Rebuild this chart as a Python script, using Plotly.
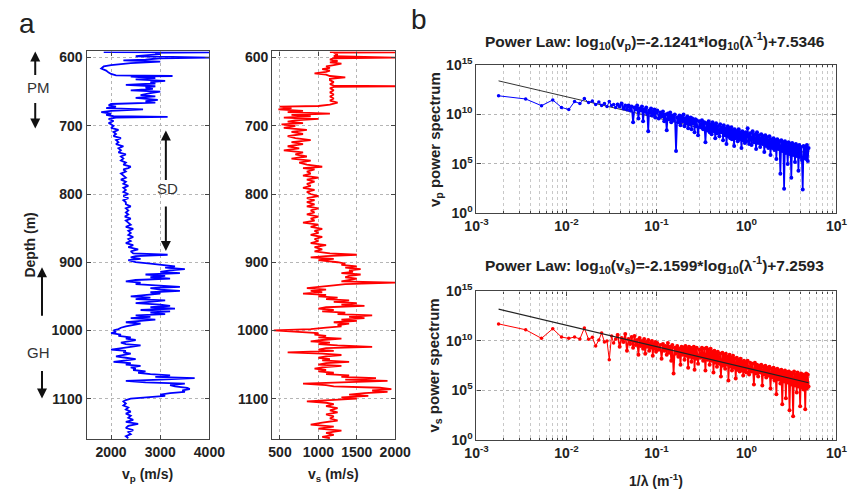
import numpy as np
import plotly.graph_objects as go

# ---------------- data ----------------
depth_vp = [592, 592.5, 593, 595, 598, 600, 601, 603, 604, 606, 608, 611, 613, 616, 619, 622, 624, 626, 627, 628,
            630, 632, 634, 636, 638, 640, 642, 644, 646, 648, 650, 652, 655, 657, 659, 662, 664, 666, 668, 670,
            672, 674, 676, 678, 680, 682, 684, 686, 687, 688, 690, 693, 696, 700, 703, 706, 709, 712, 715, 718,
            721, 724, 727, 730, 733, 736, 739, 742, 745, 748, 751, 754, 757, 760, 762, 764, 767, 770, 773, 776,
            779, 782, 785, 788, 791, 794, 797, 800, 803, 806, 809, 812, 815, 818, 821, 824, 827, 830, 833, 836,
            839, 842, 845, 848, 851, 854, 857, 860, 863, 866, 869, 872, 875, 878, 881, 884, 887, 889, 891, 893,
            895, 897, 900, 902, 904, 906, 908, 910, 912, 914, 916, 918, 920, 922, 924, 926, 928, 930, 932, 934,
            936, 938, 940, 942, 944, 946, 948, 950, 952, 954, 956, 958, 960, 962, 964, 966, 968, 970, 972, 974,
            976, 978, 980, 982, 984, 986, 988, 990, 992, 994, 996, 998, 1000, 1002, 1004, 1006, 1008, 1010, 1012, 1014,
            1016, 1018, 1020, 1022, 1024, 1026, 1028, 1030, 1032, 1034, 1036, 1038, 1040, 1042, 1044, 1046, 1048, 1050, 1052, 1054,
            1056, 1058, 1060, 1062, 1064, 1066, 1068, 1070, 1072, 1074, 1076, 1078, 1080, 1082, 1084, 1086, 1088, 1090, 1092, 1094,
            1096, 1098, 1100, 1102, 1104, 1107, 1110, 1113, 1116, 1119, 1122, 1125, 1128, 1131, 1134, 1137, 1140, 1143, 1146, 1149,
            1152, 1155, 1158]
vp = [1850, 4000, 2900, 3000, 2500, 4000, 3000, 2700, 2250, 3000, 2400, 2000, 1850, 1800, 1900, 1950, 2000, 2100, 3250, 2400,
      2900, 2500, 3100, 2800, 2900, 2300, 2900, 2700, 2850, 2400, 3000, 2800, 2600, 2900, 2500, 2950, 2700, 2900, 2000, 1950,
      2100, 1900, 2650, 2000, 1800, 2000, 1900, 2050, 3150, 2100, 1950, 2050, 1950, 2050, 2000, 2150, 2050, 2100, 2050, 2200,
      2100, 2150, 2100, 2250, 2150, 2200, 2150, 2300, 2200, 2250, 2200, 2300, 2250, 2400, 2350, 2250, 2300, 2200, 2250, 2300,
      2200, 2300, 2250, 2350, 2250, 2300, 2250, 2350, 2250, 2350, 2250, 2300, 2300, 2400, 2300, 2350, 2300, 2350, 2280, 2400,
      2300, 2350, 2400, 2300, 2450, 2350, 2400, 2350, 2450, 2350, 2400, 2300, 2450, 2350, 2550, 2400, 2450, 3150, 2500, 2400,
      2600, 2350, 2500, 2800, 3000, 3300, 3100, 3500, 3200, 3000, 3400, 2700, 3100, 2800, 3200, 2500, 2300, 2600, 2500, 2900,
      3400, 2800, 3000, 3400, 2800, 3000, 2600, 2400, 2800, 2500, 3100, 2700, 2500, 3000, 3200, 2800, 3300, 2600, 3200, 2800,
      3100, 2500, 2800, 2400, 2900, 2600, 2300, 2600, 2400, 2300, 2200, 2150, 2050, 2100, 2000, 2200, 2150, 2400, 2300, 2500,
      2350, 2200, 2300, 2600, 2400, 2200, 2000, 2300, 2250, 2400, 2200, 2100, 2300, 2500, 2300, 2050, 2400, 2300, 2600, 2400,
      2500, 2450, 2700, 2550, 2800, 3200, 2900, 3700, 3000, 2300, 2700, 3500, 3200, 3300, 3550, 3600, 3450, 3500, 3200, 3000,
      3100, 2700, 2400, 2300, 2250, 2300, 2250, 2350, 2300, 2400, 2300, 2400, 2350, 2450, 2300, 2550, 2350, 2300, 2450, 2350,
      2400, 2300, 2350]

depth_vs = [592, 592.5, 593, 596, 598, 600, 601, 603, 605, 607, 609, 611, 613, 615, 617, 619, 621, 623, 625, 627,
            629, 631, 633, 636, 639, 641, 642, 643, 645, 648, 651, 654, 657, 660, 663, 666, 669, 671, 672, 674,
            676, 678, 680, 682, 684, 686, 688, 690, 692, 694, 696, 698, 700, 703, 706, 709, 712, 715, 718, 721,
            724, 727, 730, 733, 736, 739, 742, 745, 748, 751, 754, 757, 760, 762, 764, 767, 770, 773, 776, 779,
            782, 785, 788, 791, 794, 797, 800, 803, 806, 809, 812, 815, 818, 821, 824, 827, 830, 833, 836, 839,
            842, 845, 848, 851, 854, 857, 860, 863, 866, 869, 872, 875, 878, 881, 884, 887, 889, 891, 893, 895,
            897, 900, 902, 904, 906, 908, 910, 912, 914, 916, 918, 920, 922, 924, 926, 928, 930, 932, 934, 936,
            938, 940, 942, 944, 946, 948, 950, 952, 954, 956, 958, 960, 962, 964, 966, 968, 970, 972, 974, 976,
            978, 980, 982, 984, 986, 988, 990, 992, 994, 996, 998, 1000, 1002, 1004, 1006, 1008, 1010, 1012, 1014, 1016,
            1018, 1020, 1022, 1024, 1026, 1028, 1030, 1032, 1034, 1036, 1038, 1040, 1042, 1044, 1046, 1048, 1050, 1052, 1054, 1056,
            1058, 1060, 1062, 1064, 1066, 1068, 1070, 1072, 1074, 1076, 1078, 1080, 1082, 1084, 1086, 1088, 1090, 1092, 1094, 1096,
            1098, 1100, 1102, 1104, 1106, 1108, 1111, 1114, 1117, 1120, 1123, 1126, 1129, 1132, 1135, 1138, 1141, 1144, 1147, 1150,
            1153, 1156, 1158]
vs = [1150, 2000, 1200, 1250, 1200, 2000, 1200, 1150, 1250, 1150, 1300, 1200, 1100, 1150, 1050, 1150, 1100, 950, 1100, 1150,
      1350, 1150, 1150, 1200, 1150, 1200, 2000, 1200, 1150, 1200, 1150, 1200, 1150, 1200, 1150, 1250, 1150, 1000, 500, 650,
      480, 800, 600, 1150, 650, 900, 550, 1000, 700, 600, 800, 520, 700, 550, 850, 650, 800, 600, 700, 900,
      650, 800, 600, 750, 550, 800, 700, 850, 650, 900, 750, 850, 1050, 800, 950, 850, 900, 800, 1000, 850,
      950, 850, 900, 800, 950, 850, 900, 1000, 850, 950, 850, 950, 850, 1000, 900, 950, 850, 1000, 900, 950,
      800, 1000, 900, 1050, 950, 1000, 900, 1050, 950, 1000, 900, 1100, 950, 1050, 950, 1150, 1500, 1100, 900, 1200,
      1000, 1250, 1350, 1300, 1500, 1350, 1550, 1400, 1450, 1300, 1550, 1400, 1350, 1500, 1400, 1300, 2000, 1350, 1200, 1000,
      850, 1100, 900, 1050, 800, 1100, 1000, 1250, 1100, 1400, 1200, 1500, 1300, 1600, 1100, 1000, 1200, 1050, 1350, 1250,
      1700, 1400, 1600, 1300, 1500, 1200, 1400, 1250, 1300, 1100, 900, 420, 800, 1000, 950, 1100, 1000, 1300, 1050, 900,
      1150, 1000, 1250, 1700, 1100, 1000, 1200, 600, 1050, 1300, 1100, 1000, 1150, 1050, 1400, 1100, 1000, 1300, 1050, 950,
      1100, 1000, 1200, 1100, 1400, 1300, 1750, 1350, 1900, 1400, 800, 1100, 1200, 1800, 1950, 1700, 1900, 1600, 1400, 1650,
      1300, 1500, 1100, 850, 1100, 1200, 1100, 1250, 1150, 1250, 1100, 1200, 1150, 1250, 1050, 900, 1200, 1000, 1300, 1100,
      1200, 1050, 1150]

freq_vp = [0.00176, 0.00352, 0.00528, 0.00704, 0.0088, 0.0106, 0.0123, 0.0141, 0.0158, 0.0176,
           0.0194, 0.0211, 0.0229, 0.0246, 0.0264, 0.0282, 0.0299, 0.0317, 0.0334, 0.0352,
           0.037, 0.039, 0.041, 0.043, 0.045, 0.047, 0.049, 0.051, 0.053, 0.055, 0.057, 0.059, 0.061, 0.063, 0.065,
           0.067, 0.069, 0.071, 0.073, 0.075, 0.077, 0.079, 0.081, 0.083, 0.085, 0.087, 0.089, 0.091, 0.093, 0.095,
           0.097, 0.099, 0.102, 0.106, 0.110, 0.114, 0.118, 0.122, 0.126, 0.130, 0.134, 0.138, 0.142, 0.146, 0.150,
           0.155, 0.160, 0.165, 0.170, 0.175, 0.180, 0.185, 0.190, 0.195, 0.200, 0.205, 0.210, 0.215, 0.220, 0.225,
           0.230, 0.235, 0.240, 0.245, 0.250, 0.255, 0.260, 0.265, 0.270, 0.275, 0.280, 0.290, 0.300,
           0.31, 0.32, 0.33, 0.34, 0.35, 0.36, 0.37, 0.38, 0.39, 0.40, 0.41, 0.42, 0.43, 0.44, 0.45, 0.46, 0.47, 0.48,
           0.50, 0.51, 0.52, 0.54, 0.55, 0.56, 0.58, 0.59, 0.60, 0.62, 0.63, 0.65, 0.66, 0.68, 0.69, 0.71, 0.73, 0.74,
           0.76, 0.78, 0.80, 0.82, 0.84, 0.86, 0.88, 0.90, 0.92, 0.94, 0.96, 0.98, 1.00,
           1.03, 1.07, 1.10, 1.14, 1.17, 1.21, 1.24, 1.28, 1.31, 1.35, 1.38, 1.42, 1.46, 1.50, 1.54, 1.58, 1.62, 1.66,
           1.70, 1.75, 1.80, 1.85, 1.90, 1.95, 2.00, 2.05, 2.10, 2.15, 2.20, 2.26, 2.32, 2.38, 2.44, 2.50, 2.56, 2.62,
           2.68, 2.74, 2.80, 2.87, 2.94, 3.01, 3.08, 3.15, 3.22, 3.30, 3.38, 3.46, 3.54, 3.62, 3.70, 3.78, 3.86, 3.95,
           4.04, 4.13, 4.22, 4.31, 4.40, 4.50, 4.60, 4.70, 4.80, 4.90]
logpow_vp = [11.88, 11.56, 10.88, 11.46, 10.71, 10.49, 11.3, 11.1, 11.62, 11.2,
             11.35, 11.0, 11.25, 10.9, 11.1, 10.8, 11.3, 10.9, 11.0, 10.7,
             11.0, 10.8, 11.1, 10.6, 10.9, 10.5, 10.9, 10.4, 10.8, 9.2, 10.7, 10.5, 10.9, 9.6, 10.6,
             10.4, 10.8, 9.3, 10.5, 10.3, 10.7, 10.1, 8.3, 10.4, 10.2, 10.6, 9.9, 10.3, 10.0, 10.5,
             9.7, 10.2, 10.4, 9.6, 10.2, 9.8, 10.3, 9.3, 10.0, 8.4, 10.1, 9.5, 10.2, 9.2, 9.9,
             9.4, 10.0, 6.3, 9.7, 9.2, 9.9, 8.9, 9.8, 9.3, 10.0, 8.8, 9.6, 9.1, 9.8, 8.6,
             9.5, 9.0, 9.7, 8.5, 9.6, 9.1, 9.4, 8.2, 9.5, 8.8, 9.4, 7.9, 9.3,
             8.7, 9.4, 8.5, 9.2, 7.2, 9.1, 8.4, 9.3, 8.2, 9.0, 8.0, 9.2, 8.3, 8.9, 7.6, 9.1, 8.1, 8.8,
             7.8, 9.0, 8.2, 8.7, 7.4, 8.9, 7.9, 8.6, 7.0, 8.8, 7.8, 8.6, 7.6, 8.7, 7.5, 8.4, 6.8, 8.5,
             7.6, 8.3, 7.3, 8.5, 7.5, 8.2, 6.6, 8.3, 7.4, 8.1, 7.1, 8.2, 7.3,
             8.6, 7.0, 8.1, 6.9, 8.3, 7.2, 8.0, 6.5, 8.2, 7.1, 7.9, 6.7, 8.0, 7.0, 7.8, 6.2, 7.9, 6.8,
             7.7, 6.6, 7.8, 5.9, 7.5, 6.6, 7.6, 6.4, 7.4, 5.5, 7.5, 6.5, 7.3, 4.0, 7.4, 6.3, 7.2, 2.5,
             7.3, 6.1, 7.1, 5.0, 7.2, 6.0, 7.0, 3.6, 7.1, 5.9, 6.9, 5.2, 7.0, 5.8, 6.8, 4.3, 6.9, 5.7,
             6.7, 5.4, 2.4, 6.8, 5.6, 6.7, 5.5, 6.9, 5.3, 6.6]

freq_vs = list(freq_vp)
logpow_vs = [11.72, 11.13, 10.26, 11.23, 10.39, 10.26, 10.39, 10.2, 11.3, 10.16,
             10.36, 9.5, 10.1, 10.8, 9.9, 10.0, 8.1, 10.5, 9.8, 10.2,
             10.6, 9.4, 10.3, 9.9, 10.7, 9.0, 10.2, 9.7, 10.4, 9.3, 10.5, 9.6, 10.1, 8.6, 10.3,
             9.5, 10.0, 9.2, 10.2, 8.7, 9.9, 9.4, 10.1, 9.0, 9.8, 9.3, 10.0, 8.5, 9.7, 9.2,
             9.9, 8.9, 9.8, 9.1, 9.6, 8.2, 9.7, 9.0, 9.5, 8.6, 9.8, 8.8, 9.4, 8.0, 9.6,
             6.7, 9.3, 8.7, 9.5, 8.4, 9.2, 7.6, 9.4, 8.6, 9.3, 8.1, 9.5, 8.5, 9.2, 7.3,
             9.4, 8.4, 9.3, 7.9, 9.1, 8.3, 9.4, 7.1, 9.2, 8.2, 9.3, 7.7, 9.1,
             8.3, 9.3, 8.0, 9.2, 7.0, 9.3, 8.1, 9.1, 7.6, 9.2, 8.0, 8.9, 6.8, 9.0, 7.8, 8.8, 7.4, 8.9,
             7.7, 8.7, 6.4, 8.8, 7.5, 8.5, 7.2, 8.7, 7.6, 8.4, 6.0, 8.6, 7.4, 8.3, 7.0, 8.5, 7.3, 8.2,
             6.2, 8.3, 7.1, 8.1, 6.9, 8.2, 7.0, 7.9, 6.5, 8.0, 6.9, 7.8, 6.8,
             8.0, 6.6, 7.8, 6.9, 7.7, 5.6, 7.8, 6.7, 7.6, 6.4, 7.5, 6.8, 7.6, 5.5, 7.4, 6.6, 7.5, 6.3,
             7.3, 6.5, 7.4, 5.2, 7.2, 6.3, 7.3, 6.0, 7.1, 4.6, 7.2, 6.1, 7.0, 5.7, 7.1, 3.6, 6.9, 5.9,
             7.0, 4.2, 6.8, 5.8, 6.9, 3.0, 6.8, 5.6, 6.7, 2.4, 6.9, 5.5, 6.6, 4.8, 6.8, 5.4, 6.5, 3.4,
             6.7, 5.3, 6.6, 5.1, 6.5, 3.1, 6.7, 5.2, 6.6, 5.4]

fit_freq = [0.00176, 4.9]
fit_vp_log = [13.39, 6.07]
fit_vs_log = [13.21, 5.77]

# ---------------- layout helpers ----------------
W, H = 866, 498
def px(x):
    return x / W
def py(y):
    return 1 - y / H

BLUE = "#0000ff"
RED = "#ff0000"
FONT = "Liberation Sans"
tickfont = dict(family=FONT, size=14, color="#222", weight="bold")
SPLIT = 20  # sparse low-frequency part drawn thinner than the dense band

fig = go.Figure()
fig.add_trace(go.Scatter(x=vp, y=depth_vp, mode="lines", line=dict(color=BLUE, width=1.8),
                         xaxis="x", yaxis="y", showlegend=False))
fig.add_trace(go.Scatter(x=vs, y=depth_vs, mode="lines", line=dict(color=RED, width=1.8),
                         xaxis="x2", yaxis="y2", showlegend=False))
fig.add_trace(go.Scatter(x=fit_freq, y=10 ** np.array(fit_vp_log), mode="lines",
                         line=dict(color="#333333", width=1), xaxis="x3", yaxis="y3", showlegend=False))
for f, lp, col, xa, ya in [(freq_vp, logpow_vp, BLUE, "x3", "y3"), (freq_vs, logpow_vs, RED, "x4", "y4")]:
    pw = 10 ** np.array(lp)
    fig.add_trace(go.Scatter(x=f[:SPLIT + 1], y=pw[:SPLIT + 1], mode="lines+markers",
                             line=dict(color=col, width=1), marker=dict(size=3.5, color=col),
                             xaxis=xa, yaxis=ya, showlegend=False))
    fig.add_trace(go.Scatter(x=f[SPLIT:], y=pw[SPLIT:], mode="lines+markers",
                             line=dict(color=col, width=1.7), marker=dict(size=4, color=col),
                             xaxis=xa, yaxis=ya, showlegend=False))
fig.add_trace(go.Scatter(x=fit_freq, y=10 ** np.array(fit_vs_log), mode="lines",
                         line=dict(color="#222222", width=1.2), xaxis="x4", yaxis="y4", showlegend=False))

def common():
    return dict(showline=True, linecolor="#444", linewidth=1.2, mirror="allticks", ticks="inside",
                ticklen=4, tickcolor="#444", showgrid=True, gridcolor="#b5b5b5", griddash="dot",
                gridwidth=1, zeroline=False, tickfont=tickfont)

depth_ticks = [600, 700, 800, 900, 1000, 1100]
yA = [py(445), py(43)]
fig.update_layout(
    width=W, height=H, margin=dict(l=0, r=0, t=0, b=0),
    paper_bgcolor="white", plot_bgcolor="white",
    xaxis=dict(domain=[px(77), px(204)], range=[1500, 4000], tickvals=[2000, 3000, 4000], anchor="y", **common()),
    yaxis=dict(domain=yA, range=[1159, 591], tickvals=depth_ticks, anchor="x", **common()),
    xaxis2=dict(domain=[px(269), px(396)], range=[400, 2000], tickvals=[500, 1000, 1500, 2000], anchor="y2",
                **common()),
    yaxis2=dict(domain=yA, range=[1159, 591], tickvals=depth_ticks, anchor="x2", **common()),
)

logx = dict(type="log", range=[-3, 1], tickvals=[1e-3, 1e-2, 1e-1, 1, 10],
            ticktext=["10<sup>-3</sup>", "10<sup>-2</sup>", "10<sup>-1</sup>", "10<sup>0</sup>", "10<sup>1</sup>"],
            minor=dict(showgrid=True, gridcolor="#c8c8c8", griddash="dot", ticks="inside", ticklen=2,
                       tickcolor="#444", dtick="D1"))
logy = dict(type="log", range=[0, 15], tickvals=[1, 1e5, 1e10, 1e15],
            ticktext=["10<sup>0</sup>", "10<sup>5</sup>", "10<sup>10</sup>", "10<sup>15</sup>"])
fig.update_layout(
    xaxis3=dict(domain=[px(480), px(852)], anchor="y3", **logx, **common()),
    yaxis3=dict(domain=[py(211), py(57)], anchor="x3", **logy, **common()),
    xaxis4=dict(domain=[px(480), px(852)], anchor="y4", **logx, **common()),
    yaxis4=dict(domain=[py(446), py(292)], anchor="x4", **logy, **common()),
)

ann = []
def text(x, y, s, size=13, bold=True, angle=0, color="#222"):
    ann.append(dict(x=px(x), y=py(y), xref="paper", yref="paper", text=s, showarrow=False,
                    textangle=angle, xanchor="center", yanchor="middle",
                    font=dict(family=FONT, size=size, color=color, weight="bold" if bold else "normal")))

text(16, 14, "a", size=28, bold=False)
text(421, 10, "b", size=28, bold=False)
text(19, 244, "Depth (m)", size=14, angle=-90)
text(140, 482, "v<sub>p</sub> (m/s)", size=14)
text(332, 482, "v<sub>s</sub> (m/s)", size=14)
text(437, 134, "v<sub>p</sub> power spectrum", size=15, angle=-90)
text(437, 369, "v<sub>s</sub> power spectrum", size=15, angle=-90)
text(666, 488, "1/λ (m<sup>-1</sup>)", size=14)
text(664, 32, "Power Law: log<sub>10</sub>(v<sub>p</sub>)=-2.1241*log<sub>10</sub>(λ<sup>-1</sup>)+7.5346", size=15.5)
text(664, 265, "Power Law: log<sub>10</sub>(v<sub>s</sub>)=-2.1599*log<sub>10</sub>(λ<sup>-1</sup>)+7.2593", size=15.5)
text(27, 80, "PM", size=15, bold=False, color="#333")
text(161, 185, "SD", size=15, bold=False, color="#333")
text(27, 355, "GH", size=15, bold=False, color="#333")

def arrow(x, ytip, ytail):
    ann.append(dict(x=px(x), y=py(ytip), xref="paper", yref="paper", text="", showarrow=True,
                    ax=0, ay=ytail - ytip, arrowhead=2, arrowsize=1, arrowwidth=2, arrowcolor="#111"))

arrow(24, 43, 68)
arrow(24, 123, 96)
arrow(159, 125, 176)
arrow(159, 250, 204)
arrow(31, 267, 317)
arrow(31, 403, 374)

fig.update_layout(annotations=ann)
fig.write_html("out.html")
